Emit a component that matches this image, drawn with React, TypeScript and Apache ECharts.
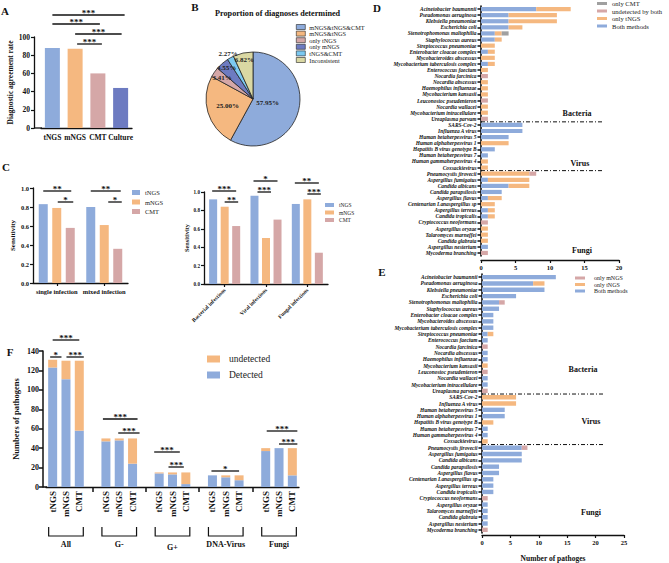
import React, { useEffect, useRef } from 'react';
import * as echarts from 'echarts';

const SERIF = '"Liberation Serif", "DejaVu Serif", serif';
const INK = '#111111';
const BLUE = '#8eabdb';
const ORANGE = '#f5b880';
const PINK = '#d5a7a7';
const NAVY = '#6d7bc1';
const GREY = '#a0a0a0';
const CYAN = '#7cc9f1';
const BEIGE = '#dad8a3';

// ---------- Panel A ----------
const aCategories = ['tNGS', 'mNGS', 'CMT', 'Culture'];
const aValues = [88, 87, 60, 44];
const aColors = [BLUE, ORANGE, PINK, NAVY];

// ---------- Panel B ----------
const bNames = ['mNGS&tNGS&CMT', 'mNGS&tNGS', 'only tNGS', 'only mNGS', 'tNGS&CMT', 'Inconsistent'];
const bValues = [57.95, 25.0, 3.41, 4.55, 2.27, 6.82];
const bColors = [BLUE, ORANGE, PINK, NAVY, CYAN, BEIGE];

// ---------- Panel C ----------
const cMethods = ['tNGS', 'mNGS', 'CMT'];
const cColors = [BLUE, ORANGE, PINK];
const cLeftCategories = ['single infection', 'mixed infection'];
const cLeftTngs = [0.83, 0.8];
const cLeftMngs = [0.79, 0.61];
const cLeftCmt = [0.58, 0.36];
const cRightCategories = ['Bacterial infections', 'Viral infections', 'Fungal infections'];
const cRightTngs = [0.92, 0.96, 0.87];
const cRightMngs = [0.84, 0.5, 0.92];
const cRightCmt = [0.63, 0.7, 0.34];

// ---------- Panel D ----------
const dCategories = [
  'Acinetobacter baumannii', 'Pseudomonas aeruginosa', 'Klebsiella pneumoniae', 'Escherichia coli',
  'Stenotrophomonas maltophilia', 'Staphylococcus aureus', 'Streptococcus pneumoniae',
  'Enterobacter cloacae complex', 'Mycobacteroides abscessus', 'Mycobacterium tuberculosis complex',
  'Enterococcus faecium', 'Nocardia farcinica', 'Nocardia abscessus', 'Haemophilus influenzae',
  'Mycobacterium kansasii', 'Leuconostoc pseudenteron', 'Nocardia wallacei',
  'Mycobacterium intracellulare', 'Ureaplasma parvum',
  'SARS-Cov-2', 'Influenza A virus', 'Human betaherpesvirus 5', 'Human alphaherpesvirus 1',
  'Hepatitis B virus genotype B', 'Human betaherpesvirus 7', 'Human gammaherpesvirus 4', 'Coxsackievirus',
  'Pneumocystis jirovecii', 'Aspergillus fumigatus', 'Candida albicans', 'Candida parapsilosis',
  'Aspergillus flavus', 'Centenarian Lanaspergillus sp', 'Aspergillus terreus', 'Candida tropicalis',
  'Cryptococcus neoformans', 'Aspergillus oryzae', 'Talaromyces marneffei', 'Candida glabrata',
  'Aspergillus nesterium', 'Mycoderma branching',
];
const dBoth = [8, 4, 4, 4, 2, 2, 0, 1, 0, 1, 0, 0, 0, 0, 0, 0, 0, 0, 0,
  6, 6, 4, 0, 2, 1, 0, 0,
  0, 1, 4, 3, 1, 0, 1, 1, 0, 0, 0, 0, 1, 0];
const dOnlyTngs = [5, 7, 7, 2, 1, 1, 2, 1, 2, 1, 1, 0, 1, 1, 1, 0, 1, 1, 0,
  0, 0, 0, 4, 0, 0, 1, 1,
  7, 6, 3, 0, 2, 2, 1, 1, 0, 1, 1, 1, 0, 0];
const dUndetected = [0, 0, 0, 0, 0, 0, 0, 0, 0, 0, 0, 1, 0, 0, 0, 1, 0, 0, 1,
  0, 0, 0, 0, 0, 0, 0, 0,
  1, 0, 0, 0, 0, 0, 0, 0, 1, 0, 0, 0, 0, 1];
const dOnlyCmt = [0, 0, 0, 0, 1, 0, 0, 0, 0, 0, 0, 0, 0, 0, 0, 0, 0, 0, 0,
  0, 0, 0, 0, 0, 0, 0, 0,
  0, 0, 0, 0, 0, 0, 0, 0, 0, 0, 0, 0, 0, 0];
const dTicks = [0, 5, 10, 15, 20];

// ---------- Panel E ----------
const eCategories = [
  'Acinetobacter baumannii', 'Pseudomonas aeruginosa', 'Klebsiella pneumoniae', 'Escherichia coli',
  'Stenotrophomonas maltophilia', 'Staphylococcus aureus', 'Enterobacter cloacae complex',
  'Mycobacteroides abscessus', 'Mycobacterium tuberculosis complex', 'Streptococcus pneumoniae',
  'Enterococcus faecium', 'Nocardia farcinica', 'Nocardia abscessus', 'Haemophilus influenzae',
  'Mycobacterium kansasii', 'Leuconostoc pseudenteron', 'Nocardia wallacei',
  'Mycobacterium intracellulare', 'Ureaplasma parvum',
  'SARS-Cov-2', 'Influenza A virus', 'Human betaherpesvirus 5', 'Human alphaherpesvirus 1',
  'Hepatitis B virus genotype B', 'Human betaherpesvirus 7', 'Human gammaherpesvirus 4', 'Coxsackievirus',
  'Pneumocystis jirovecii', 'Aspergillus fumigatus', 'Candida albicans', 'Candida parapsilosis',
  'Aspergillus flavus', 'Centenarian Lanaspergillus sp', 'Aspergillus terreus', 'Candida tropicalis',
  'Cryptococcus neoformans', 'Aspergillus oryzae', 'Talaromyces marneffei', 'Candida glabrata',
  'Aspergillus nesterium', 'Mycoderma branching',
];
const eBoth = [13, 9, 11, 6, 3, 3, 2, 2, 2, 1, 1, 0, 1, 1, 0, 0, 1, 1, 0,
  0, 0, 4, 4, 0, 1, 1, 0,
  7, 7, 7, 3, 3, 2, 2, 2, 0, 1, 1, 1, 1, 0];
const eOnlyTngs = [0, 2, 0, 0, 0, 0, 0, 0, 0, 1, 0, 0, 0, 0, 1, 0, 0, 0, 0,
  6, 6, 0, 0, 2, 0, 0, 1,
  0, 0, 0, 0, 0, 0, 0, 0, 0, 0, 0, 0, 0, 0];
const eOnlyMngs = [0, 0, 0, 0, 1, 0, 0, 0, 0, 0, 0, 1, 0, 0, 0, 1, 0, 0, 1,
  0, 0, 0, 0, 0, 0, 0, 0,
  1, 0, 0, 0, 0, 0, 0, 0, 1, 0, 0, 0, 0, 1];
const eTicks = [0, 5, 10, 15, 20, 25];

// ---------- Panel F ----------
const fGroups = ['All', 'G-', 'G+', 'DNA-Virus', 'Fungi'];
const fMethods = ['tNGS', 'mNGS', 'CMT'];
const fDetected = [[123, 111, 58], [47, 48, 24], [14, 13, 3], [12, 10, 7], [37, 40, 12]];
const fUndetected = [[8, 19, 72], [3, 2, 26], [1, 2, 12], [0, 2, 5], [3, 0, 28]];
const fTicks = [0, 20, 40, 60, 80, 100, 120, 140];

// ---------- derived ----------
const fKeys: string[] = [];
const fLabels: string[] = [];
const fDet: any[] = [];
const fUnd: any[] = [];
fGroups.forEach((g, gi) => {
  fMethods.forEach((m, mi) => {
    fKeys.push(g + '-' + m);
    fLabels.push(m);
    fDet.push(fDetected[gi][mi]);
    fUnd.push(fUndetected[gi][mi]);
  });
  if (gi < fGroups.length - 1) {
    fKeys.push('gap-' + gi);
    fLabels.push('');
    fDet.push('-');
    fUnd.push('-');
  }
});

const lbl = (fontSize: number, extra: any = {}) => ({
  fontFamily: SERIF, fontWeight: 'bold', fontSize, color: INK, ...extra,
});
const axLine = { show: true, lineStyle: { color: INK, width: 1.3 } };
const axTick = (length = 3, extra: any = {}) => ({ show: true, length, lineStyle: { color: INK, width: 1.2 }, ...extra });
const stripName = (n: string) => n.split('|').pop() as string;

function buildOption(): any {
  const grids = [
    { left: 41, top: 37, width: 91, height: 91 }, // A
    { left: 33, top: 188, width: 95, height: 95 }, // C left
    { left: 204, top: 192, width: 124, height: 92 }, // C right
    { left: 481, top: 6, width: 138, height: 250 }, // D
    { left: 482, top: 274, width: 142, height: 260 }, // E
    { left: 46, top: 351, width: 253, height: 136 }, // F
  ];
  const total = bValues.reduce((s, v) => s + v, 0);
  const pieR = 47;
  const pieC = [253, 99];
  const labelFactor = [0.32, 0.56, 0.8, 0.86, 1.1, 0.86];

  const horizontalBar = (name: string, data: number[], color: string, xi: number, stack: string, bw: number) => ({
    type: 'bar', name, data: data.map((v) => (v === 0 ? '-' : v)), xAxisIndex: xi, yAxisIndex: xi, stack,
    barWidth: bw, itemStyle: { color }, silent: true,
  });

  return {
    animation: false,
    backgroundColor: '#ffffff',
    textStyle: { fontFamily: SERIF },
    title: [{
      text: 'Proportion of diagnoses determined', left: 215, top: 9,
      textStyle: lbl(8.2), padding: 0,
    }],
    grid: grids,
    legend: [
      {
        data: bNames, left: 296, top: 24, orient: 'vertical', icon: 'rect', itemWidth: 9, itemHeight: 5,
        itemGap: 0.6, padding: 0, selectedMode: false,
        itemStyle: { borderColor: '#222', borderWidth: 0.6 },
        textStyle: { fontFamily: SERIF, fontSize: 6.3, color: '#222', padding: [0, 0, 0, -1] },
      },
      {
        data: cMethods.map((m) => 'CL|' + m), left: 132, top: 189, orient: 'vertical', icon: 'rect',
        itemWidth: 8, itemHeight: 5, itemGap: 2.5, padding: 0, selectedMode: false, formatter: stripName,
        textStyle: { fontFamily: SERIF, fontSize: 6.5, color: '#222' },
      },
      {
        data: cMethods.map((m) => 'CR|' + m), left: 325, top: 202, orient: 'vertical', icon: 'rect',
        itemWidth: 9, itemHeight: 4, itemGap: 1.5, padding: 0, selectedMode: false, formatter: stripName,
        textStyle: { fontFamily: SERIF, fontSize: 5.5, color: '#222' },
      },
      {
        data: ['D|only CMT', 'D|undetected by both', 'D|only tNGS', 'D|Both methods'], left: 597, top: 0,
        orient: 'vertical', icon: 'rect', itemWidth: 10, itemHeight: 3, itemGap: 0.5, padding: 0,
        selectedMode: false, formatter: stripName,
        textStyle: { fontFamily: SERIF, fontSize: 6.6, color: '#222' },
      },
      {
        data: ['E|only mNGS', 'E|only tNGS', 'E|Both methods'], left: 575, top: 275,
        orient: 'vertical', icon: 'rect', itemWidth: 10, itemHeight: 3, itemGap: 0.5, padding: 0,
        selectedMode: false, formatter: stripName,
        textStyle: { fontFamily: SERIF, fontSize: 6, color: '#222', padding: [0, 0, 0, 4] },
      },
      {
        data: ['F|undetected', 'F|Detected'], left: 207, top: 354, orient: 'vertical', icon: 'rect',
        itemWidth: 13, itemHeight: 7, itemGap: 6, padding: 0, selectedMode: false, formatter: stripName,
        textStyle: { fontFamily: SERIF, fontSize: 9.5, color: '#222', padding: [0, 0, 0, 4] },
      },
    ],
    xAxis: [
      {
        type: 'category', gridIndex: 0, data: aCategories, axisLine: axLine, axisTick: { show: false },
        axisLabel: { ...lbl(7.5), margin: 5, interval: 0 },
      },
      {
        type: 'category', gridIndex: 1, data: cLeftCategories, axisLine: axLine,
        axisTick: axTick(3, { alignWithLabel: true }), axisLabel: { ...lbl(6.5), margin: 5, interval: 0 },
      },
      {
        type: 'category', gridIndex: 2, data: cRightCategories, axisLine: axLine,
        axisTick: axTick(3, { alignWithLabel: true }), axisLabel: { ...lbl(5.5), margin: 5, rotate: 45, interval: 0 },
      },
      {
        type: 'value', gridIndex: 3, min: dTicks[0], max: dTicks[dTicks.length - 1], interval: 5, offset: 4,
        axisLine: axLine, axisTick: axTick(3), splitLine: { show: false },
        axisLabel: { ...lbl(6.5), margin: 4 },
      },
      {
        type: 'value', gridIndex: 4, min: eTicks[0], max: eTicks[eTicks.length - 1], interval: 5, offset: 2,
        axisLine: axLine, axisTick: axTick(3), splitLine: { show: false },
        axisLabel: { ...lbl(6.5), margin: 4 },
        name: 'Number of pathoges', nameLocation: 'middle', nameGap: 19, nameTextStyle: lbl(7.5),
      },
      {
        type: 'category', gridIndex: 5, data: fKeys, axisLine: axLine,
        axisTick: axTick(5, { alignWithLabel: true, interval: (i: number) => fLabels[i] === '', lineStyle: { color: INK, width: 1.5 } }),
        axisLabel: { ...lbl(9), margin: 4, rotate: 90, interval: 0, formatter: (_v: string, i: number) => fLabels[i] },
      },
    ],
    yAxis: [
      {
        type: 'value', gridIndex: 0, min: 0, max: 100, interval: 20, offset: 7, axisLine: axLine,
        axisTick: axTick(3), splitLine: { show: false }, axisLabel: { ...lbl(7.5), margin: 4 },
        name: 'Diagnostic agreement rate', nameLocation: 'middle', nameRotate: 90, nameGap: 17,
        nameTextStyle: lbl(7.5),
      },
      {
        type: 'value', gridIndex: 1, min: 0, max: 1, interval: 0.2, axisLine: axLine, axisTick: axTick(3),
        splitLine: { show: false }, axisLabel: { ...lbl(6.5), margin: 4, formatter: (v: number) => v.toFixed(1) },
        name: 'Sensitivity', nameLocation: 'middle', nameRotate: 90, nameGap: 17, nameTextStyle: lbl(7),
      },
      {
        type: 'value', gridIndex: 2, min: 0, max: 1, interval: 0.2, axisLine: axLine, axisTick: axTick(3),
        splitLine: { show: false }, axisLabel: { ...lbl(5.2), margin: 4, formatter: (v: number) => v.toFixed(1) },
        name: 'Sensitivity', nameLocation: 'middle', nameRotate: 90, nameGap: 15, nameTextStyle: lbl(6.3),
      },
      {
        type: 'category', gridIndex: 3, data: dCategories, inverse: true,
        axisLine: { show: true, lineStyle: { color: INK, width: 1.6 } },
        axisTick: axTick(3.5, { alignWithLabel: true, interval: 0, lineStyle: { color: INK, width: 1.5 } }),
        axisLabel: { ...lbl(5.4, { fontStyle: 'italic' }), margin: 4.5, interval: 0 },
      },
      {
        type: 'category', gridIndex: 4, data: eCategories, inverse: true,
        axisLine: { show: true, lineStyle: { color: INK, width: 1.6 } },
        axisTick: axTick(3.5, { alignWithLabel: true, interval: 0, lineStyle: { color: INK, width: 1.5 } }),
        axisLabel: { ...lbl(5.4, { fontStyle: 'italic' }), margin: 4.5, interval: 0 },
      },
      {
        type: 'value', gridIndex: 5, min: fTicks[0], max: fTicks[fTicks.length - 1], interval: 20, offset: 3,
        axisLine: { show: true, lineStyle: { color: INK, width: 1.5 } },
        axisTick: axTick(4, { lineStyle: { color: INK, width: 1.5 } }),
        splitLine: { show: false }, axisLabel: { ...lbl(8), margin: 4 },
        name: 'Numbers of pathogens', nameLocation: 'middle', nameRotate: 90, nameGap: 23, nameTextStyle: lbl(8.5),
      },
    ],
    series: [
      {
        type: 'bar', name: 'A', xAxisIndex: 0, yAxisIndex: 0, barWidth: 15, silent: true,
        data: aValues.map((v, i) => ({ value: v, itemStyle: { color: aColors[i] } })),
      },
      ...[cLeftTngs, cLeftMngs, cLeftCmt].map((d, k) => ({
        type: 'bar', name: 'CL|' + cMethods[k], xAxisIndex: 1, yAxisIndex: 1, data: d, barWidth: 9,
        barGap: '50%', itemStyle: { color: cColors[k] }, silent: true,
      })),
      ...[cRightTngs, cRightMngs, cRightCmt].map((d, k) => ({
        type: 'bar', name: 'CR|' + cMethods[k], xAxisIndex: 2, yAxisIndex: 2, data: d, barWidth: 8,
        barGap: '44%', itemStyle: { color: cColors[k] }, silent: true,
      })),
      horizontalBar('D|Both methods', dBoth, BLUE, 3, 'd', 4.2),
      horizontalBar('D|only tNGS', dOnlyTngs, ORANGE, 3, 'd', 4.2),
      horizontalBar('D|undetected by both', dUndetected, PINK, 3, 'd', 4.2),
      horizontalBar('D|only CMT', dOnlyCmt, GREY, 3, 'd', 4.2),
      horizontalBar('E|Both methods', eBoth, BLUE, 4, 'e', 4.4),
      horizontalBar('E|only tNGS', eOnlyTngs, ORANGE, 4, 'e', 4.4),
      horizontalBar('E|only mNGS', eOnlyMngs, PINK, 4, 'e', 4.4),
      {
        type: 'bar', name: 'F|Detected', xAxisIndex: 5, yAxisIndex: 5, stack: 'f', data: fDet, barWidth: 9,
        itemStyle: { color: BLUE }, silent: true,
      },
      {
        type: 'bar', name: 'F|undetected', xAxisIndex: 5, yAxisIndex: 5, stack: 'f', data: fUnd, barWidth: 9,
        itemStyle: { color: ORANGE }, silent: true,
      },
      {
        type: 'pie', name: 'B', center: pieC, radius: pieR, startAngle: 90, clockwise: true,
        avoidLabelOverlap: false, silent: true,
        itemStyle: { borderColor: '#222', borderWidth: 0.8 },
        label: {
          show: true, position: 'inside', ...lbl(7, { color: '#222' }),
          formatter: (p: any) => p.value.toFixed(2) + '%',
        },
        labelLine: { show: false },
        labelLayout: (p: any) => {
          const i = p.dataIndex;
          let start = 0;
          for (let j = 0; j < i; j++) start += bValues[j];
          const mid = ((start + bValues[i] / 2) / total) * Math.PI * 2;
          const r = pieR * labelFactor[i];
          return { x: pieC[0] + Math.sin(mid) * r, y: pieC[1] - Math.cos(mid) * r, align: 'center', verticalAlign: 'middle' };
        },
        data: bNames.map((n, i) => ({ name: n, value: bValues[i], itemStyle: { color: bColors[i] } })),
      },
    ],
  };
}

function buildGraphic(chart: any): any[] {
  const xp = (axis: number, v: number) => chart.convertToPixel({ xAxisIndex: axis }, v) as number;
  const yp = (axis: number, v: number) => chart.convertToPixel({ yAxisIndex: axis }, v) as number;
  const els: any[] = [];
  const line = (x1: number, y1: number, x2: number, y2: number, style: any = {}) =>
    els.push({ type: 'line', silent: true, shape: { x1, y1, x2, y2 }, style: { stroke: INK, lineWidth: 1.2, ...style } });
  const text = (x: number, y: number, t: string, fontSize: number, style: any = {}) =>
    els.push({
      type: 'text', silent: true, x, y,
      style: { text: t, fontFamily: SERIF, fontWeight: 'bold', fontSize, fill: INK, align: 'center', verticalAlign: 'middle', ...style },
    });
  const sig = (x1: number, x2: number, y: number, label: string) => {
    line(x1, y, x2, y, { lineWidth: 1.3 });
    text((x1 + x2) / 2, y - 2.5, label, 9);
  };

  // Panel letters
  text(5, 11, 'A', 11);
  text(195, 7, 'B', 11);
  text(6, 167, 'C', 11);
  text(377, 8, 'D', 11);
  text(382, 272, 'E', 11);
  text(10, 352, 'F', 11);

  // A
  line(34, 128, 42, 128, { lineWidth: 1.3 });
  sig(xp(0, 0), xp(0, 3) + 4, 15, '***');
  sig(xp(0, 0), xp(0, 2) + 2, 24, '***');
  sig(xp(0, 1), xp(0, 3) + 1, 34, '***');
  sig(xp(0, 1) + 2, xp(0, 2) + 4, 44, '***');

  // C left
  const bl = (c: number, k: number) => xp(1, c) + (k - 1) * 13.5;
  sig(bl(0, 0), bl(0, 2) + 1, 191, '**');
  sig(bl(0, 1) + 1, bl(0, 2) + 3, 202, '*');
  sig(bl(1, 0), bl(1, 2) + 3, 191, '**');
  sig(bl(1, 1) + 4, bl(1, 2) + 4, 202, '*');

  // C right
  const br = (c: number, k: number) => xp(2, c) + (k - 1) * 11.5;
  sig(br(0, 0) - 1, br(0, 2), 191, '***');
  sig(br(0, 1), br(0, 2) + 2, 202, '**');
  sig(br(1, 0) - 1, br(1, 2), 181, '*');
  sig(br(1, 0) + 3, br(1, 1) + 5, 192, '***');
  sig(br(2, 0) - 1, br(2, 2), 183, '**');
  sig(br(2, 1), br(2, 2) + 2, 194, '***');

  // D / E separators and section labels
  const sep = (axis: number, a: number, x1: number, x2: number) => {
    const y = (yp(axis, a) + yp(axis, a + 1)) / 2;
    line(x1, y, x2, y, { lineWidth: 1, lineDash: [4, 2, 1, 2] });
  };
  sep(3, 18, 481, 603);
  sep(3, 26, 481, 603);
  sep(4, 18, 482, 605);
  sep(4, 26, 482, 605);
  text(577, 113, 'Bacteria', 8);
  text(580, 163, 'Virus', 8);
  text(582, 250, 'Fungi', 8);
  text(583, 369, 'Bacteria', 8);
  text(591, 421, 'Virus', 8);
  text(591, 512, 'Fungi', 8);

  // F
  const f = (i: number) => xp(5, i);
  line(43, 487, 47, 487, { lineWidth: 1.5 });
  sig(f(0), f(2), 340, '***');
  sig(f(0) - 2.5, f(1) - 4.5, 357, '*');
  sig(f(1) + 0.5, f(2) + 4.5, 357, '***');
  sig(f(4) - 3, f(6) + 5, 419, '***');
  sig(f(5) - 1, f(6) + 7, 433, '***');
  sig(f(8) - 5, f(10) - 6, 452, '***');
  sig(f(9) - 4, f(10) - 2, 467, '***');
  sig(f(12) - 1, f(14), 471, '*');
  sig(f(16) + 1, f(18) + 5, 431, '***');
  sig(f(17), f(18) + 5, 444, '***');
  fGroups.forEach((g, gi) => {
    const x1 = f(gi * 4) - 4;
    const x2 = f(gi * 4 + 2) + 4;
    els.push({
      type: 'polyline', silent: true,
      shape: { points: [[x1, 527], [x1, 536], [x2, 536], [x2, 527]] },
      style: { stroke: INK, lineWidth: 1.2, fill: null },
    });
    text(f(gi * 4 + 1), g === 'G+' ? 547 : 544, g, 8);
  });

  return els;
}

export default function App() {
  const ref = useRef<HTMLDivElement>(null);
  useEffect(() => {
    const chart = echarts.init(ref.current as HTMLDivElement, null, { renderer: 'svg' });
    chart.setOption(buildOption());
    chart.setOption({ graphic: { elements: buildGraphic(chart) } });
    return () => chart.dispose();
  }, []);
  return (
    <div
      ref={ref}
      style={{ position: 'fixed', left: 0, top: 0, width: 669, height: 563, background: '#ffffff' }}
    />
  );
}
